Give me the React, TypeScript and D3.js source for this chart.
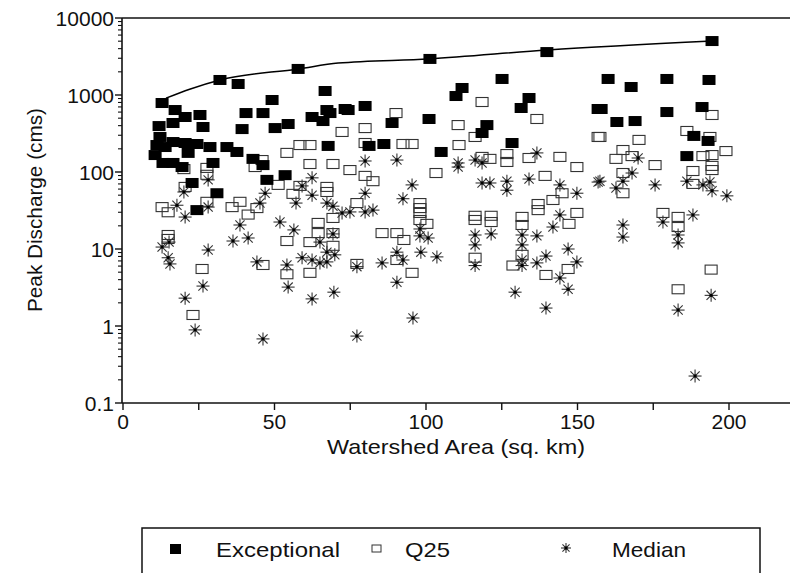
import React, { useRef, useEffect } from "react";
import * as d3 from "d3";

// [watershed area (sq. km), peak discharge (cms)]
const exceptional = [
  [12.9, 787], [17.2, 638], [11.9, 395], [16.5, 433], [20.5, 518], [25.4, 550],
  [26.4, 384], [32.0, 1567], [38.0, 1390], [40.6, 583], [46.2, 583], [49.2, 861],
  [39.3, 361], [50.2, 372], [54.5, 420], [12.2, 285], [13.9, 211], [16.5, 245],
  [20.5, 238], [24.4, 231], [28.7, 211], [21.5, 177], [34.3, 211], [37.6, 182],
  [10.6, 166], [11.2, 224], [13.2, 131], [16.5, 131], [19.5, 116], [29.7, 131],
  [42.9, 148], [46.2, 123], [47.5, 79], [53.5, 91], [22.8, 72], [31.0, 53],
  [24.4, 32], [57.8, 2180], [66.7, 1127], [67.3, 638], [68.3, 583], [62.4, 518],
  [66.0, 459], [67.7, 218], [73.3, 658], [74.3, 638], [79.9, 720], [88.8, 433],
  [101, 488], [101.3, 2940], [139.9, 3610], [125.1, 1615], [111.9, 1233], [109.9, 970],
  [134, 914], [131.4, 678], [120.1, 407], [118.5, 321], [81.2, 218], [86.1, 231],
  [105, 182], [128.4, 238], [156.8, 658], [194.4, 5020], [160.1, 1615], [167.7, 1270],
  [179.5, 1615], [193.4, 1567], [157.8, 658], [163, 446], [169, 459], [179.5, 601],
  [191.1, 698], [188.4, 294], [193.1, 253], [186.1, 161],
];

const q25 = [
  [54.1, 177], [58.4, 224], [20.1, 109], [27.7, 113], [27.7, 92], [45.9, 143],
  [43.6, 116], [20.5, 64], [51.2, 68], [58.4, 66], [56.1, 52], [12.9, 35],
  [14.9, 30], [27.7, 41], [36.0, 35], [38.6, 41], [41.3, 28], [44.2, 34],
  [67.3, 64], [67.3, 55], [77.2, 39.5], [14.9, 15.2], [14.9, 13.5], [26.1, 5.5],
  [23.1, 1.39], [46.2, 6.2], [54.1, 12.7], [54.1, 4.7], [61.7, 4.9], [64.4, 21.8],
  [69.3, 25.3], [64.4, 16.1], [69.3, 16.1], [69.3, 11.0], [61.7, 12.3], [77.2, 6.4],
  [72.3, 331], [61.7, 224], [61.7, 127], [69.3, 127], [74.9, 106], [118.5, 811],
  [90.1, 583], [136.6, 488], [79.9, 372], [110.6, 407], [110.9, 224], [116.2, 285],
  [79.9, 238], [92.4, 231], [95.4, 231], [118.5, 157], [121.1, 148], [126.7, 171],
  [126.7, 135], [134.0, 152], [103.3, 97], [79.9, 89], [82.5, 76], [139.3, 89],
  [144.2, 157], [149.8, 116], [98.0, 39.5], [98.0, 34], [98.0, 29.4], [116.2, 27],
  [121.5, 27], [121.5, 22.4], [116.2, 23.8], [131.7, 26.1], [131.7, 20.5], [137.0, 38.4],
  [137.0, 32], [141.9, 43.3], [144.9, 53], [149.8, 29.4], [156.8, 285], [85.5, 16.1],
  [90.4, 16.1], [92.7, 13.1], [98.0, 23.8], [100.3, 21.2], [90.4, 7.2], [95.4, 4.9],
  [116.2, 7.7], [131.7, 8.4], [128.7, 6.1], [147.2, 21.2], [139.6, 4.6], [146.9, 5.5],
  [194.4, 550], [186.1, 341], [193.7, 285], [157.4, 285], [170.3, 261], [165.0, 193],
  [162.7, 148], [168.0, 161], [175.6, 123], [191.4, 161], [194.4, 166], [199.0, 187],
  [188.1, 103], [194.4, 120], [194.4, 106], [165.0, 97], [188.1, 70], [165.0, 53],
  [178.2, 29.4], [183.2, 26.1], [183.2, 19.3], [194.1, 5.4], [183.2, 3.0],
];

const median = [
  [28.1, 79], [20.1, 55], [46.9, 53], [17.8, 37], [28.1, 35], [45.2, 39.5],
  [57.1, 39.5], [20.5, 26], [38.6, 20.5], [51.8, 22.4], [56.4, 17.7], [36.3, 12.7],
  [41.3, 13.9], [12.9, 10.6], [15.2, 12.3], [28.1, 9.7], [14.9, 7.7], [15.5, 6.4],
  [44.2, 6.8], [54.1, 6.2], [54.5, 3.2], [26.4, 3.3], [20.5, 2.3], [23.8, 0.89],
  [46.2, 0.68], [62.4, 2.25], [69.6, 2.75], [59.1, 7.7], [62.4, 7.2], [65.0, 6.6],
  [67.3, 6.8], [67.3, 9.1], [69.9, 8.4], [69.3, 15.7], [65.0, 12.3], [67.3, 39.5],
  [69.3, 36], [72.3, 29.4], [74.9, 30.3], [77.2, 5.9], [77.2, 0.74], [62.4, 84],
  [59.1, 66], [62.4, 50], [79.9, 139], [90.4, 143], [110.6, 131], [110.6, 116],
  [116.2, 143], [118.5, 131], [126.7, 76], [126.7, 58], [121.1, 72], [118.5, 72],
  [134.0, 81], [136.6, 177], [144.2, 68], [149.8, 53], [95.4, 68], [92.4, 45],
  [79.9, 53], [79.9, 30.3], [82.5, 32], [144.2, 27.7], [156.8, 74], [98.0, 18.2],
  [98.0, 14.8], [100.7, 13.9], [90.4, 9.1], [92.4, 7.2], [98.3, 9.1], [103.6, 7.9],
  [85.5, 6.6], [90.4, 3.7], [95.7, 1.27], [116.2, 15.2], [116.2, 11.3], [116.2, 6.1],
  [121.5, 15.7], [131.7, 15.2], [131.7, 11.3], [131.7, 7.2], [131.7, 6.1], [136.6, 14.8],
  [136.6, 6.6], [139.6, 8.1], [141.9, 19.3], [146.9, 10.0], [149.8, 6.8], [144.2, 4.2],
  [146.9, 3.0], [129.4, 2.75], [139.6, 1.71], [170.0, 152], [168.0, 97], [165.0, 76],
  [157.4, 76], [162.7, 62], [175.6, 68], [186.1, 76], [191.4, 68], [193.7, 74],
  [194.4, 57], [199.3, 49], [188.1, 27.7], [165.0, 20.5], [165.0, 14.3], [178.2, 22.4],
  [183.2, 15.2], [183.2, 12], [194.1, 2.5], [183.2, 1.61], [188.8, 0.224],
];

// upper envelope line
const envelope = [
  [14.2, 910], [22, 1190], [32, 1570], [58, 2180], [71, 2600], [101, 2940],
  [140, 3840], [194.4, 5020],
];

const xTicks = [0, 25, 50, 75, 100, 125, 150, 175, 200];
const xLabels = [0, 50, 100, 150, 200];
const yLabels = [0.1, 1, 10, 100, 1000, 10000];

const FONT = "'Liberation Sans', Arial, Helvetica, sans-serif";

function App() {
  const svgRef = useRef(null);

  useEffect(() => {
    const svg = d3.select(svgRef.current);
    svg.selectAll("*").remove();

    const width = 790;
    const height = 573;
    const left = 123;
    const top = 18;
    const bottom = 403;

    const x = d3.scaleLinear().domain([0, 220]).range([left, left + 220 * 3.03]);
    const y = d3.scaleLog().domain([0.1, 10000]).range([bottom, top]);

    svg.append("rect").attr("width", width).attr("height", height).attr("fill", "white");

    const g = svg.append("g");

    // frame lines (left, bottom, top)
    g.append("line")
      .attr("x1", left - 1).attr("x2", left - 1)
      .attr("y1", top).attr("y2", bottom)
      .attr("stroke", "#111").attr("stroke-width", 1.6);
    g.append("line")
      .attr("x1", left - 1).attr("x2", width)
      .attr("y1", bottom).attr("y2", bottom)
      .attr("stroke", "#111").attr("stroke-width", 1.6);
    g.append("line")
      .attr("x1", left - 1).attr("x2", width)
      .attr("y1", top).attr("y2", top)
      .attr("stroke", "#111").attr("stroke-width", 1.4);

    // x ticks
    g.selectAll(".xtick")
      .data(xTicks)
      .enter()
      .append("line")
      .attr("x1", (d) => x(d)).attr("x2", (d) => x(d))
      .attr("y1", bottom).attr("y2", bottom + 7)
      .attr("stroke", "#111").attr("stroke-width", 1.4);

    g.selectAll(".xlabel")
      .data(xLabels)
      .enter()
      .append("text")
      .attr("x", (d) => x(d))
      .attr("y", bottom + 26)
      .attr("text-anchor", "middle")
      .attr("font-family", FONT)
      .attr("font-size", 21)
      .attr("fill", "#111")
      .text((d) => d);

    // y ticks, major and minor
    const minor = [];
    for (let e = -1; e < 4; e++) {
      for (let k = 2; k <= 9; k++) minor.push(k * Math.pow(10, e));
    }
    g.selectAll(".yminor")
      .data(minor)
      .enter()
      .append("line")
      .attr("x1", left - 5).attr("x2", left - 1)
      .attr("y1", (d) => y(d)).attr("y2", (d) => y(d))
      .attr("stroke", "#111").attr("stroke-width", 1.1);
    g.selectAll(".ymajor")
      .data(yLabels)
      .enter()
      .append("line")
      .attr("x1", left - 8).attr("x2", left - 1)
      .attr("y1", (d) => y(d)).attr("y2", (d) => y(d))
      .attr("stroke", "#111").attr("stroke-width", 1.4);
    g.selectAll(".ylabel")
      .data(yLabels)
      .enter()
      .append("text")
      .attr("x", left - 9)
      .attr("y", (d) => y(d) + 7.5)
      .attr("text-anchor", "end")
      .attr("font-family", FONT)
      .attr("font-size", 21)
      .attr("fill", "#111")
      .text((d) => String(d));

    // axis titles
    g.append("text")
      .attr("x", 456)
      .attr("y", 454)
      .attr("text-anchor", "middle")
      .attr("font-family", FONT)
      .attr("font-size", 21)
      .attr("fill", "#111")
      .attr("textLength", 258)
      .attr("lengthAdjust", "spacingAndGlyphs")
      .text("Watershed Area (sq. km)");
    g.append("text")
      .attr("transform", "translate(42, 210) rotate(-90)")
      .attr("text-anchor", "middle")
      .attr("font-family", FONT)
      .attr("font-size", 21)
      .attr("fill", "#111")
      .attr("textLength", 204)
      .attr("lengthAdjust", "spacingAndGlyphs")
      .text("Peak Discharge (cms)");

    // Q25 open squares
    g.selectAll(".q25")
      .data(q25)
      .enter()
      .append("rect")
      .attr("x", (d) => x(d[0]) - 6)
      .attr("y", (d) => y(d[1]) - 4.5)
      .attr("width", 12)
      .attr("height", 9)
      .attr("fill", "none")
      .attr("stroke", "#333")
      .attr("stroke-width", 1.1);

    // Exceptional filled squares
    g.selectAll(".exc")
      .data(exceptional)
      .enter()
      .append("rect")
      .attr("x", (d) => x(d[0]) - 6.5)
      .attr("y", (d) => y(d[1]) - 5)
      .attr("width", 13)
      .attr("height", 10)
      .attr("fill", "#000");

    // envelope line
    const line = d3
      .line()
      .x((d) => x(d[0]))
      .y((d) => y(d[1]))
      .curve(d3.curveMonotoneX);
    g.append("path")
      .attr("d", line(envelope))
      .attr("fill", "none")
      .attr("stroke", "#000")
      .attr("stroke-width", 1.5);

    // Median asterisks
    const star = (sel, r) => {
      [0, 45, 90, 135].forEach((a) => {
        const rad = (a * Math.PI) / 180;
        sel.append("line")
          .attr("x1", -r * Math.cos(rad)).attr("y1", -r * Math.sin(rad))
          .attr("x2", r * Math.cos(rad)).attr("y2", r * Math.sin(rad))
          .attr("stroke", "#333")
          .attr("stroke-width", 1.1);
      });
      sel.append("circle").attr("r", 1.7).attr("fill", "#000");
    };
    const stars = g.selectAll(".med")
      .data(median)
      .enter()
      .append("g")
      .attr("transform", (d) => `translate(${x(d[0])}, ${y(d[1])})`);
    star(stars, 6.5);

    // legend
    const lg = svg.append("g");
    lg.append("rect")
      .attr("x", 142).attr("y", 528)
      .attr("width", 618).attr("height", 80)
      .attr("fill", "none")
      .attr("stroke", "#111")
      .attr("stroke-width", 1.5);
    lg.append("rect")
      .attr("x", 170).attr("y", 544).attr("width", 11).attr("height", 10)
      .attr("fill", "#000");
    lg.append("rect")
      .attr("x", 372).attr("y", 545).attr("width", 9).attr("height", 7)
      .attr("fill", "none").attr("stroke", "#333").attr("stroke-width", 1);
    star(lg.append("g").attr("transform", "translate(566, 548)"), 5);

    const items = [
      ["Exceptional", 216, 124],
      ["Q25", 405, 45],
      ["Median", 612, 74],
    ];
    items.forEach(([t, tx, tl]) => {
      lg.append("text")
        .attr("x", tx)
        .attr("y", 557)
        .attr("font-family", FONT)
        .attr("font-size", 21)
        .attr("fill", "#111")
        .attr("textLength", tl)
        .attr("lengthAdjust", "spacingAndGlyphs")
        .text(t);
    });
  }, []);

  return (
    <svg
      ref={svgRef}
      width={790}
      height={573}
      style={{ position: "absolute", left: 0, top: 0 }}
    ></svg>
  );
}

export default App;
